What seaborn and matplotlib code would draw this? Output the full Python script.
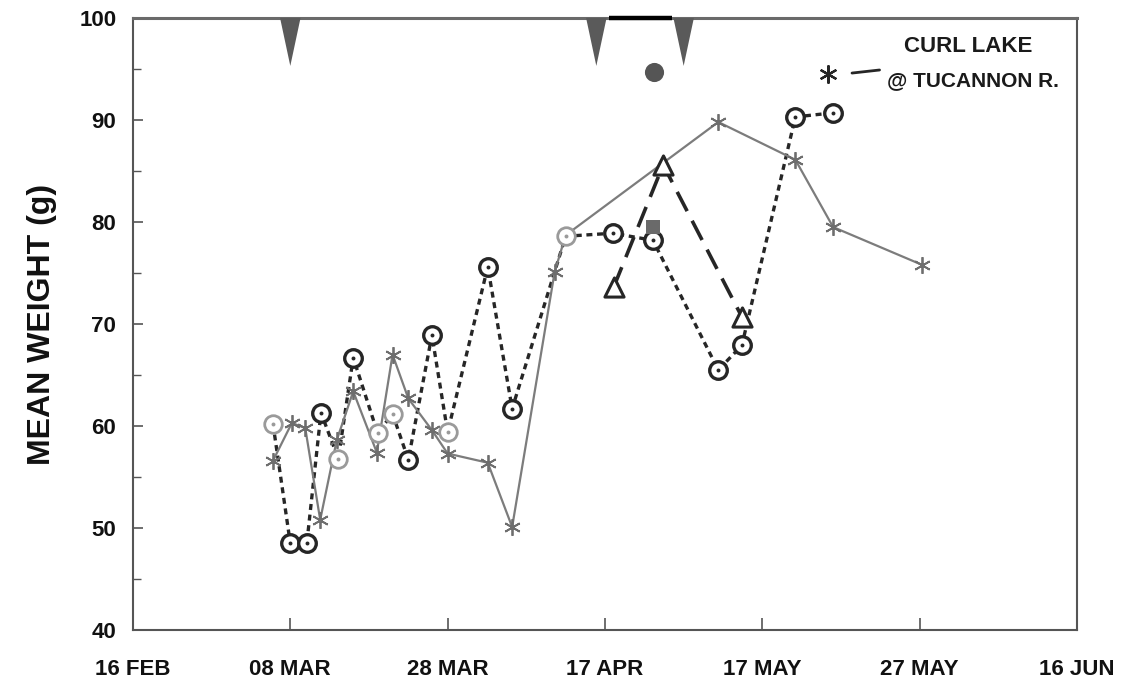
import matplotlib
matplotlib.use("Agg")
import matplotlib.pyplot as plt
from matplotlib.ticker import MultipleLocator
import seaborn as sns

# ---- data (x = days after 16 FEB) ----
curl_days = [17.8, 20.2, 21.9, 23.8, 25.9, 28.0, 31.0, 33.0, 35.0, 38.0, 40.0, 45.1, 48.2, 53.6, 55.0, 74.4, 84.2, 89.0, 100.3]
curl_wt = [56.6, 60.3, 59.8, 50.8, 58.6, 63.4, 57.4, 67.0, 62.7, 59.6, 57.3, 56.4, 50.1, 75.1, 78.7, 89.8, 86.1, 79.5, 75.8]

circ_days = [17.8, 20.0, 22.1, 23.9, 26.1, 28.0, 31.1, 33.0, 35.0, 38.0, 40.0, 45.1, 48.2, 55.0, 61.0, 66.1, 74.4, 77.4, 84.2, 89.0]
circ_wt = [60.2, 48.5, 48.5, 61.3, 56.8, 66.7, 59.3, 61.2, 56.7, 68.9, 59.4, 75.6, 61.7, 78.6, 78.9, 78.2, 65.5, 67.9, 90.3, 90.7]
circ_faded = [True, False, False, False, True, False, True, True, False, False, True, False, False, True, False, False, False, False, False, False]

tri_days = [61.1, 67.4, 77.4]
tri_wt = [73.6, 85.6, 70.7]

square_day = [66.1]
square_wt = [79.5]
dot_day = [66.2]
dot_wt = [94.7]

release_days = [20.0, 58.9, 70.0]
bar_days = [60.5, 68.5]

tick_days = [0, 20, 40, 60, 80, 100, 120]
tick_labels = ["16 FEB", "08 MAR", "28 MAR", "17 APR", "17 MAY", "27 MAY", "16 JUN"]

# ---- style ----
sns.set_style("ticks")
plt.rcParams['font.family'] = ['Liberation Sans', 'DejaVu Sans']
plt.rcParams['font.weight'] = 'bold'

fig = plt.figure(figsize=(11.22, 6.86), dpi=100)
ax = fig.add_axes([0.1185, 0.0816, 0.8414, 0.8922])

DARK = '#262626'
GRAY = '#7c7c7c'

# asterisk series (solid gray)
sns.lineplot(x=curl_days, y=curl_wt, ax=ax, sort=False, estimator=None,
             color=GRAY, lw=1.6, marker=(6, 2, 0), markersize=12,
             markeredgewidth=1.3, markeredgecolor='#6e6e6e', zorder=3)

# circle series (dotted)
sns.lineplot(x=circ_days, y=circ_wt, ax=ax, sort=False, estimator=None,
             color=DARK, lw=2.4, ls=(0, (1.8, 1.4)), zorder=2)
dark_x = [d for d, f in zip(circ_days, circ_faded) if not f]
dark_y = [w for w, f in zip(circ_wt, circ_faded) if not f]
fade_x = [d for d, f in zip(circ_days, circ_faded) if f]
fade_y = [w for w, f in zip(circ_wt, circ_faded) if f]
sns.scatterplot(x=dark_x, y=dark_y, ax=ax, marker='o', s=160, facecolor='white',
                edgecolor=DARK, linewidth=2.4, zorder=4)
sns.scatterplot(x=dark_x, y=dark_y, ax=ax, marker='o', s=8, color=DARK,
                linewidth=0, zorder=5)
sns.scatterplot(x=fade_x, y=fade_y, ax=ax, marker='o', s=160, facecolor='white',
                edgecolor='#9a9a9a', linewidth=2.0, zorder=4)
sns.scatterplot(x=fade_x, y=fade_y, ax=ax, marker='o', s=8, color='#9a9a9a',
                linewidth=0, zorder=5)

# triangle series (dashed)
sns.lineplot(x=tri_days, y=tri_wt, ax=ax, sort=False, estimator=None,
             color=DARK, lw=2.6, ls=(0, (6, 3)), zorder=2)
sns.scatterplot(x=tri_days, y=tri_wt, ax=ax, marker='^', s=190, facecolor='white',
                edgecolor=DARK, linewidth=2.2, zorder=4)

# single points
sns.scatterplot(x=square_day, y=square_wt, ax=ax, marker='s', s=110, color='#6a6a6a',
                linewidth=0, zorder=6)
sns.scatterplot(x=dot_day, y=dot_wt, ax=ax, marker='o', s=190, color='#555555',
                linewidth=0, zorder=6)

# release markers at top
for d in release_days:
    ax.fill([d - 1.3, d + 1.3, d], [100, 100, 95.3], color='#5a5a5a', lw=0,
            clip_on=False, zorder=6)
ax.plot(bar_days, [100, 100], color='black', lw=3.2, clip_on=False, zorder=7,
        solid_capstyle='butt')

# legend-like annotation
ax.plot([88.3], [94.5], marker=(6, 2, 0), markersize=13, markeredgewidth=1.6,
        color=DARK, ls='none')
ax.plot([91.4, 94.9], [94.6, 94.9], color=DARK, lw=2)
ax.text(106.2, 97.2, "CURL LAKE", ha='center', va='center', fontsize=16,
        fontweight='bold', color='#1a1a1a')
ax.text(95.8, 93.9, "@ TUCANNON R.", ha='left', va='center', fontsize=15,
        fontweight='bold', color='#1a1a1a')

# axes
ax.set_xlim(0, 120)
ax.set_ylim(40, 100)
ax.set_xticks(tick_days)
ax.set_xticklabels(tick_labels)
ax.yaxis.set_major_locator(MultipleLocator(10))
ax.yaxis.set_minor_locator(MultipleLocator(5))
ax.tick_params(axis='x', direction='in', length=9, width=1.2, pad=21,
               labelsize=16, colors='#555555', labelcolor='#111111')
ax.tick_params(axis='y', which='major', direction='in', length=7, width=1.2, pad=12,
               labelsize=16, colors='#555555', labelcolor='#111111')
ax.tick_params(axis='y', which='minor', direction='in', length=6, width=1.0,
               colors='#555555')
for lbl in ax.get_xticklabels() + ax.get_yticklabels():
    lbl.set_fontweight('bold')

for side in ['left', 'right', 'bottom']:
    ax.spines[side].set_visible(True)
    ax.spines[side].set_color('#555555')
    ax.spines[side].set_linewidth(1.5)
ax.spines['top'].set_visible(True)
ax.spines['top'].set_color('#6a6a6a')
ax.spines['top'].set_linewidth(2.2)

ax.set_xlabel('')
ax.set_ylabel('MEAN WEIGHT (g)', fontsize=23, fontweight='bold', color='#111111',
              labelpad=16)

fig.savefig('out.png', dpi=100)
